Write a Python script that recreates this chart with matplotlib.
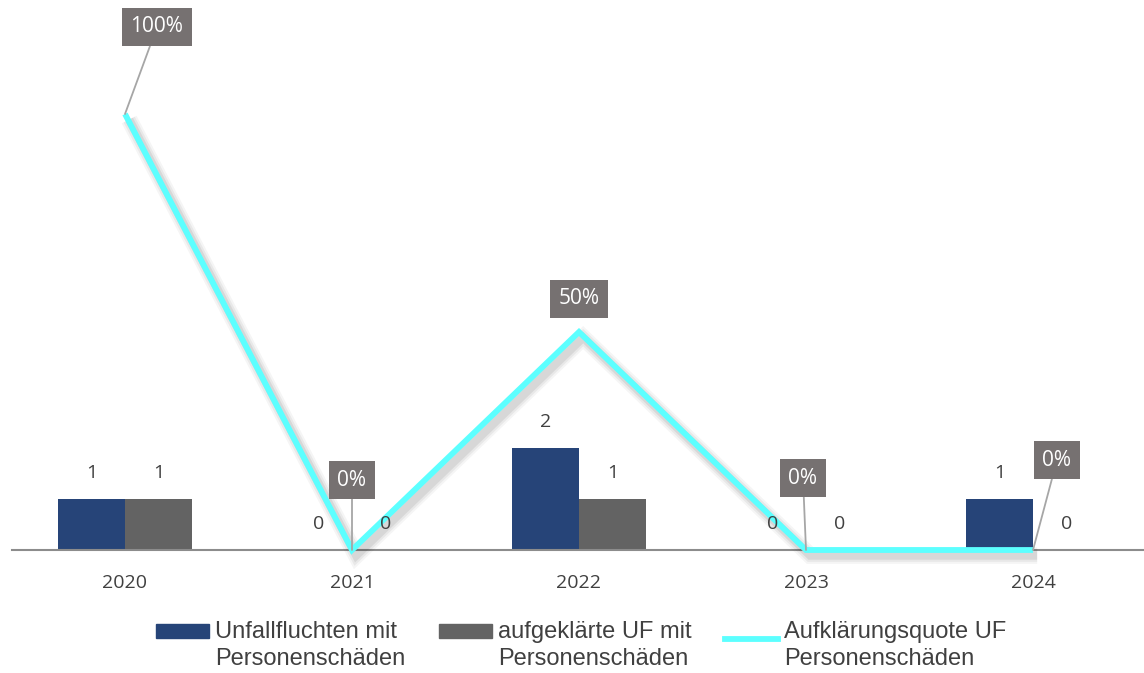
import matplotlib
matplotlib.use("Agg")
import matplotlib.pyplot as plt
import matplotlib.patheffects as pe
from matplotlib.patches import Patch
from matplotlib.lines import Line2D
from matplotlib.legend_handler import HandlerPatch, HandlerLine2D
import numpy as np

# Data
years = ["2020", "2021", "2022", "2023", "2024"]
unfallfluchten = [1, 0, 2, 0, 1]
aufgeklaert = [1, 0, 1, 0, 0]
quote = [1.0, 0.0, 0.5, 0.0, 0.0]
quote_labels = ["100%", "0%", "50%", "0%", "0%"]

series_names = ["Unfallfluchten mit\nPersonenschäden",
                "aufgeklärte UF mit\nPersonenschäden",
                "Aufklärungsquote UF\nPersonenschäden"]

BLUE = "#264478"
GREY = "#636363"
CYAN = "#5CFFFF"
BOX = "#767171"
TXT = "#404040"

W, H = 1144, 673
fig = plt.figure(figsize=(W / 100, H / 100), dpi=100)
ax = fig.add_axes([11.5 / W, (H - 550) / H, 1135 / W, 520 / H])
ax2 = ax.twinx()

x = np.arange(len(years))
bw = 0.295

b1 = ax.bar(x - bw / 2, unfallfluchten, bw, color=BLUE, zorder=2)
b2 = ax.bar(x + bw / 2, aufgeklaert, bw, color=GREY, zorder=2)

ax.set_xlim(-0.5, len(years) - 0.5)
ax.set_ylim(0, 520 / 51)
ax2.set_ylim(0, 520 / 436)

# Rate line with a soft drop shadow
shadow = [pe.SimpleLineShadow(offset=(3, -4), shadow_color="black", alpha=a, linewidth=lw)
          for a, lw in ((0.04, 12), (0.05, 9), (0.07, 6))]
ax2.plot(x, quote, color=CYAN, lw=4.2, solid_joinstyle="miter", solid_capstyle="butt",
         path_effects=shadow + [pe.Normal()], zorder=3, clip_on=False)

# Bar value labels (drawn on the upper axes so they sit above the line)
num_font = dict(family="Open Sans", fontsize=14, color=TXT)
for bars, vals in ((b1, unfallfluchten), (b2, aufgeklaert)):
    for rect, v in zip(bars, vals):
        ax2.annotate(f"{v}", xy=(rect.get_x() + rect.get_width() / 2, v),
                     xycoords=ax.transData, xytext=(0, 26), textcoords="offset pixels",
                     ha="center", va="center", zorder=6, **num_font)

# Percentage labels in boxes with leader lines
offsets = [(32, 87), (0, 70), (0, 33), (-3, 72), (24, 90)]
leaders = [True, True, False, True, True]
for i, (lab, (dx, dy), lead) in enumerate(zip(quote_labels, offsets, leaders)):
    kw = {}
    if lead:
        kw["arrowprops"] = dict(arrowstyle="-", color="#a6a6a6", lw=1.3,
                                shrinkA=0, shrinkB=0)
    ax2.annotate(lab, xy=(x[i], quote[i]), xytext=(dx, dy), textcoords="offset pixels",
                 ha="center", va="center", family="Open Sans", fontsize=15,
                 color="white", zorder=7,
                 bbox=dict(boxstyle="square,pad=0.42", fc=BOX, ec="none"), **kw)

for a in (ax, ax2):
    for s in ("top", "right", "left"):
        a.spines[s].set_visible(False)
    a.set_yticks([])
ax2.spines["bottom"].set_visible(False)
ax.spines["bottom"].set_color("#8c8c8c")
ax.spines["bottom"].set_linewidth(1.5)
ax.set_xticks(x)
ax.set_xticklabels(years, family="Open Sans", fontsize=14, color=TXT)
ax.tick_params(axis="x", length=0, pad=17)


# Legend handles aligned with the first line of each two-line label
SHIFT = 10.5  # points


class TopPatch(HandlerPatch):
    def create_artists(self, legend, orig_handle, xdescent, ydescent, width, height,
                       fontsize, trans):
        return super().create_artists(legend, orig_handle, xdescent, ydescent - SHIFT,
                                      width, height, fontsize, trans)


class TopLine(HandlerLine2D):
    def create_artists(self, legend, orig_handle, xdescent, ydescent, width, height,
                       fontsize, trans):
        return super().create_artists(legend, orig_handle, xdescent, ydescent - SHIFT,
                                      width, height, fontsize, trans)


handles = [Patch(color=BLUE), Patch(color=GREY), Line2D([], [], color=CYAN, lw=4.2)]
leg = fig.legend(handles, series_names, loc="center", bbox_to_anchor=(581 / W, (H - 645.5) / H),
                 ncol=3, frameon=False, prop=dict(family="Liberation Sans", size=17),
                 handlelength=2.25, handleheight=0.55, handletextpad=0.25,
                 columnspacing=1.42, labelcolor=TXT,
                 handler_map={Patch: TopPatch(), Line2D: TopLine()})
for t in leg.get_texts():
    t.set_linespacing(1.32)

fig.savefig("out.png", dpi=100)
